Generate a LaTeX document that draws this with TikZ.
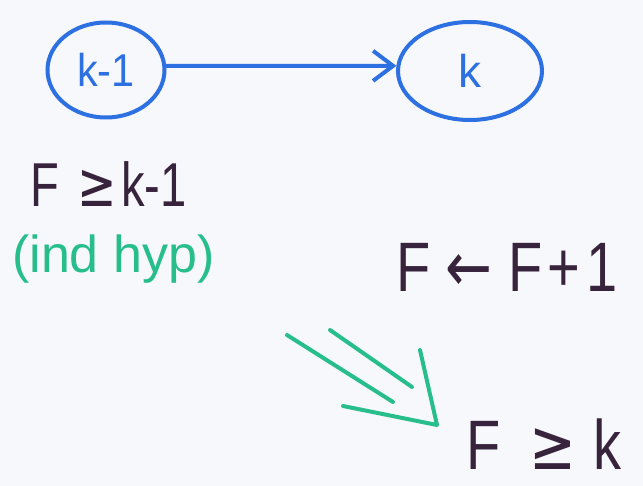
\documentclass[tikz,border=0pt]{standalone}
\usepackage{fontspec}
\setmainfont{Liberation Sans}
\newfontfamily\symfont{DejaVu Sans}
\usetikzlibrary{shapes.geometric,arrows.meta}
\definecolor{mblue}{RGB}{45,112,225}
\definecolor{mgreen}{RGB}{40,190,140}
\definecolor{mink}{RGB}{55,35,60}
\definecolor{board}{RGB}{247,248,251}
\begin{document}
\begin{tikzpicture}[x=1pt,y=-1pt,
  vertex/.style={ellipse,draw=mblue,line width=4pt,inner sep=0pt,text=mblue,
    font=\fontsize{46}{50}\selectfont},
  bluearrow/.style={draw=mblue,line width=4pt,line cap=round,
    -{Straight Barb[length=20pt,width=30pt,line width=4pt]}},
  ink/.style={text=mink,inner sep=0pt,anchor=base west},
  bigfont/.style={font=\fontsize{70}{76}\selectfont},
  greentext/.style={text=mgreen,inner sep=0pt,anchor=base west,font=\fontsize{52}{60}\selectfont},
  garrow/.style={draw=mgreen,line width=4pt,line cap=round,line join=round}]
\useasboundingbox (0,0) rectangle (643,486);
\fill[board] (0,0) rectangle (643,486);

\node[vertex,minimum width=117pt,minimum height=95pt] (km1) at (106,70) {\scalebox{0.9}[1]{k-1}};
\node[vertex,minimum width=144pt,minimum height=98pt] (k) at (470,71) {k};
\draw[bluearrow] (km1.4) -- (k.176);

\node[ink,font=\fontsize{62}{70}\selectfont] (hyp) at (30,207) {\scalebox{0.76}[1]{F\hspace{24pt}{\symfont≥}\hspace{6pt}k-1}};
\node[greentext] (ind) at (12,273) {(ind hyp)};
\node[ink,bigfont] (upd) at (396,292) {\scalebox{0.8}[1]{F {\symfont←} F\hspace{6pt}+\hspace{8pt}1}};
\node[ink,bigfont] (res) at (466,469) {\scalebox{0.8}[1]{F\hspace{36pt}{\symfont≥}\hspace{22pt}k}};

\coordinate (a1) at (330,330); \coordinate (a2) at (412,387);
\coordinate (b1) at (287,335); \coordinate (b2) at (393,402);
\coordinate (h1) at (420,350); \coordinate (tip) at (437,425); \coordinate (h2) at (343,406);
\draw[garrow] (a1) -- (a2);
\draw[garrow] (b1) -- (b2);
\draw[garrow] (h1) -- (tip) -- (h2);
\end{tikzpicture}
\end{document}
